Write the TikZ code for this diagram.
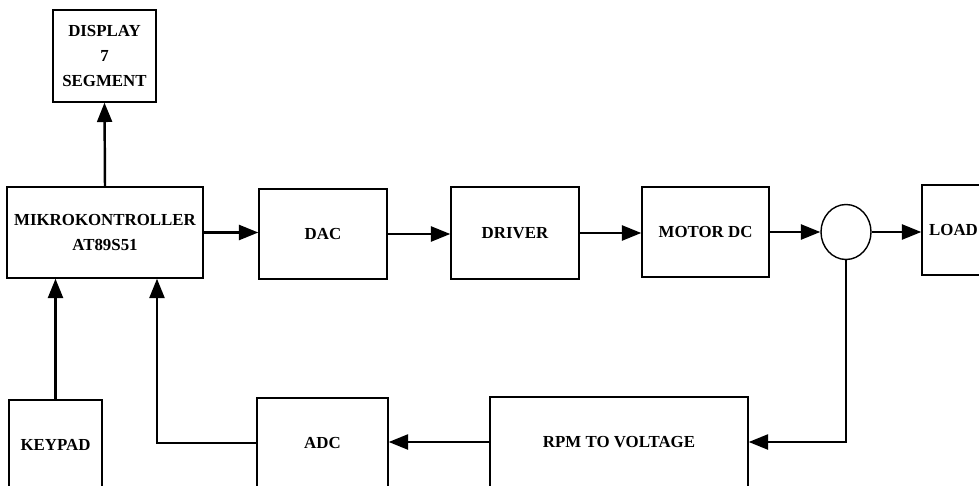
\documentclass[tikz,border=0pt]{standalone}
\usepackage{fontspec}
\setmainfont{Liberation Serif}
\usetikzlibrary{arrows.meta,shapes.geometric,positioning}
\tikzset{
  block/.style={
    shape = rectangle,
    draw,
    line width = 0.8pt,
    inner sep = 0pt,
    align = center,
    font = \fontsize{9.6}{14}\selectfont\bfseries
  },
  sumnode/.style={
    shape = ellipse,
    draw,
    line width = 0.8pt,
    minimum width = 1.0cm,
    minimum height = 1.1cm,
    inner sep = 0pt
  },
  flow/.style={
    line width = 1.4pt,
    -{Triangle[length=11pt,width=8.5pt]}
  }
}
\begin{document}
\begin{tikzpicture}[x=0.02cm,y=-0.02cm]
    \clip (0,0) rectangle (979,486);
    \useasboundingbox (0,0) rectangle (979,486);

    % forward path
    \node[block, minimum width=2.06cm, minimum height=1.84cm] (disp) at (104.5,56) {DISPLAY\\7\\SEGMENT};
    \node[block, minimum width=3.92cm, minimum height=1.82cm] (mcu) at (105,232.5) {MIKROKONTROLLER\\AT89S51};
    \node[block, minimum width=2.56cm, minimum height=1.80cm] (dac) at (323,234) {DAC};
    \node[block, minimum width=2.56cm, minimum height=1.84cm] (drv) at (515,233) {DRIVER};
    \node[block, minimum width=2.54cm, minimum height=1.80cm] (motor) at (705.5,232) {MOTOR DC};
    \node[sumnode] (sum) at (846,232) {};
    \node[block, minimum width=1.26cm, minimum height=1.80cm] (load) at (953.5,230) {LOAD};

    % feedback path
    \node[block, minimum width=1.86cm, minimum height=1.80cm] (keypad) at (55.5,445) {KEYPAD};
    \node[block, minimum width=2.62cm, minimum height=1.80cm] (adc) at (322.5,443) {ADC};
    \node[block, minimum width=5.16cm, minimum height=1.80cm] (rpm) at (619,442) {RPM TO VOLTAGE};

    \draw[flow] (mcu.north) -- (disp.south);
    \draw[flow] (mcu.east) -- (mcu.east -| dac.west);
    \draw[flow] (dac.east) -- (dac.east -| drv.west);
    \draw[flow] (drv.east) -- (drv.east -| motor.west);
    \draw[flow] (motor.east) -- (sum.west);
    \draw[flow] (sum.east) -- (sum.east -| load.west);

    \draw[flow] (keypad.north) -- (keypad.north |- mcu.south);
    \draw[flow] (adc.west) -| ([xshift=1.04cm]mcu.south);
    \draw[flow] (sum.south) |- (rpm.east);
    \draw[flow] (rpm.west) -- (rpm.west -| adc.east);
\end{tikzpicture}
\end{document}
